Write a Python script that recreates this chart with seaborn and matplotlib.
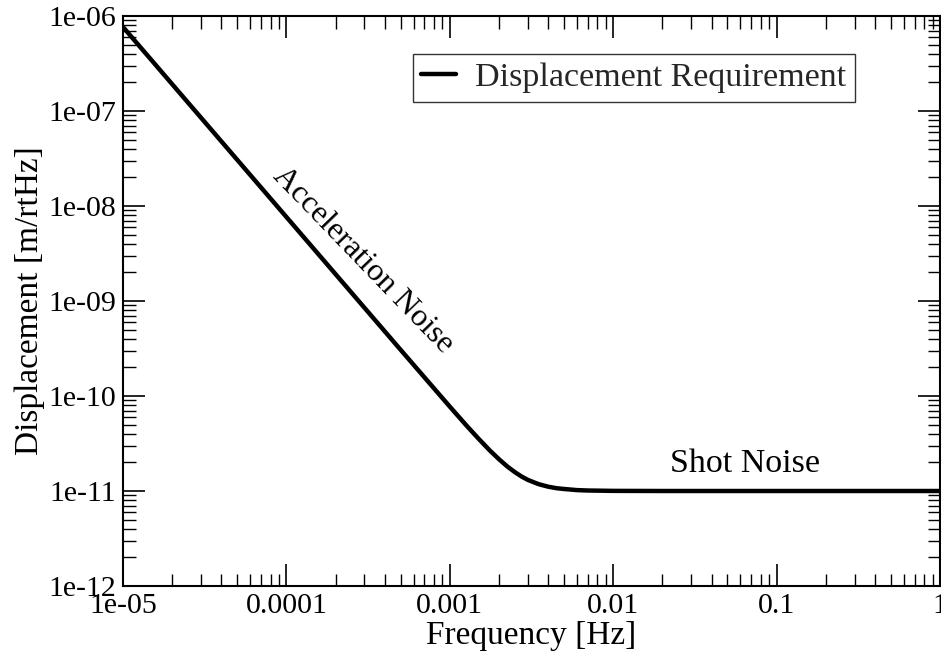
import matplotlib
matplotlib.use("Agg")
import matplotlib.pyplot as plt
import seaborn as sns
import pandas as pd
from matplotlib.ticker import FixedLocator, LogLocator, NullFormatter

# Data
frequency = [1e-5, 2e-5, 5e-5, 1e-4, 2e-4, 5e-4, 1e-3, 1.25e-3, 1.5e-3, 1.75e-3,
             2e-3, 2.25e-3, 2.5e-3, 2.75e-3, 3e-3, 3.25e-3, 3.5e-3, 4e-3, 4.5e-3,
             5e-3, 6e-3, 7e-3, 1e-2, 2e-2, 1e-1, 1.0]
displacement = [7.66e-7, 1.915e-7, 3.064e-8, 7.66e-9, 1.915e-9, 3.064e-10, 7.73e-11,
                5.00e-11, 3.55e-11, 2.69e-11, 2.16e-11, 1.81e-11, 1.58e-11, 1.42e-11,
                1.31e-11, 1.24e-11, 1.18e-11, 1.11e-11, 1.07e-11, 1.05e-11, 1.022e-11,
                1.012e-11, 1.003e-11, 1.0e-11, 1.0e-11, 1.0e-11]
x_ticks = [1e-5, 1e-4, 1e-3, 1e-2, 1e-1, 1.0]
x_tick_labels = ["1e-05", "0.0001", "0.001", "0.01", "0.1", "1"]
y_ticks = [1e-12, 1e-11, 1e-10, 1e-9, 1e-8, 1e-7, 1e-6]
y_tick_labels = ["1e-12", "1e-11", "1e-10", "1e-09", "1e-08", "1e-07", "1e-06"]
series_label = "Displacement Requirement"

df = pd.DataFrame({"Frequency": frequency, "Displacement": displacement})

sns.set_theme(style="ticks")
plt.rcParams["font.family"] = ["Liberation Serif", "DejaVu Serif"]

fig = plt.figure(figsize=(9.41, 6.54), dpi=100)
ax = fig.add_axes([123 / 941, 1 - 586 / 654, (940 - 123) / 941, (586 - 16) / 654])

sns.lineplot(data=df, x="Frequency", y="Displacement", ax=ax, color="black",
             linewidth=3.2, label=series_label, estimator=None, sort=False)

ax.set_xscale("log")
ax.set_yscale("log")
ax.set_xlim(1e-5, 1.0)
ax.set_ylim(1e-12, 1e-6)

ax.xaxis.set_major_locator(FixedLocator(x_ticks))
ax.set_xticklabels(x_tick_labels)
ax.yaxis.set_major_locator(FixedLocator(y_ticks))
ax.set_yticklabels(y_tick_labels)
ax.xaxis.set_minor_locator(LogLocator(base=10, subs=range(2, 10), numticks=20))
ax.yaxis.set_minor_locator(LogLocator(base=10, subs=range(2, 10), numticks=20))
ax.xaxis.set_minor_formatter(NullFormatter())
ax.yaxis.set_minor_formatter(NullFormatter())

ax.tick_params(which="both", direction="in", top=True, right=True, color="black",
               labelsize=21.5, labelcolor="black")
ax.tick_params(which="major", length=16, width=1.2, pad=5)
ax.tick_params(which="minor", length=9, width=1.0)
for sp in ax.spines.values():
    sp.set_color("black")
    sp.set_linewidth(1.5)

ax.set_xlabel("Frequency [Hz]", fontsize=24, color="black", labelpad=1)
ax.set_ylabel("Displacement [m/rtHz]", fontsize=24, color="black", labelpad=2)

ax.text(2.94e-4, 2.65e-9, "Acceleration Noise", fontsize=23, rotation=-46,
        rotation_mode="anchor", ha="center", va="center", color="black")
ax.text(0.064, 1.58e-11, "Shot Noise", fontsize=24.5, ha="center", va="baseline",
        color="black")

leg = ax.legend(loc="upper right", bbox_to_anchor=(0.8955, 0.9335), fontsize=24.5,
                frameon=True, fancybox=False, handlelength=1.03, handletextpad=0.55,
                borderpad=0.25, borderaxespad=0)
leg.get_frame().set_edgecolor("black")
leg.get_frame().set_linewidth(1.0)

fig.savefig("out.png", dpi=100)
